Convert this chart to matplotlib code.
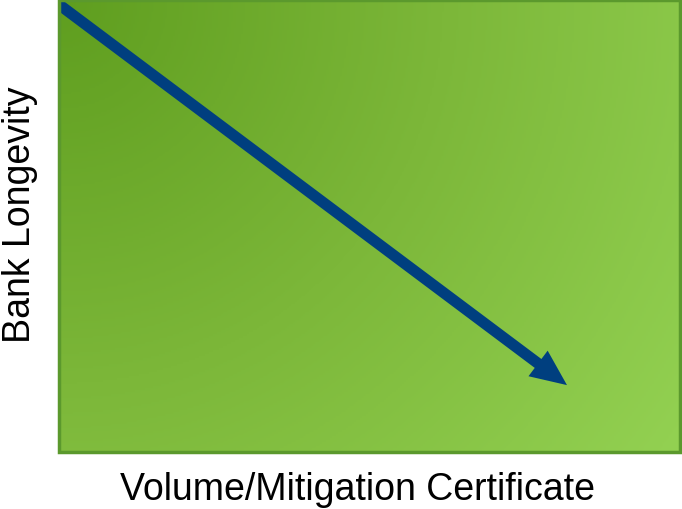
import numpy as np
import matplotlib
matplotlib.use("Agg")
import matplotlib.pyplot as plt
from matplotlib.colors import LinearSegmentedColormap
from matplotlib.patches import FancyArrowPatch, Rectangle

plt.rcParams['font.family'] = ['Liberation Sans', 'DejaVu Sans']

x_label = "Volume/Mitigation Certificate"
y_label = "Bank Longevity"
arrow_start = (0.0, 0.99)
arrow_end = (0.818, 0.148)
grad_colors = ["#5f9e1f", "#7cb739", "#93d152"]

W, H = 621, 452
fig = plt.figure(figsize=(6.82, 5.10), dpi=100)
ax = fig.add_axes([59/682, 57/510, W/682, H/510])
ax.set_xlim(0, 1)
ax.set_ylim(0, 1)

cmap = LinearSegmentedColormap.from_list("g", grad_colors)
px, py = np.meshgrid(np.linspace(0, W, 310), np.linspace(0, H, 226))
grad = np.sqrt(px**2 + py**2) / np.hypot(W, H)
ax.imshow(grad, extent=[0, 1, 0, 1], origin='upper', cmap=cmap, aspect='auto', zorder=0,
          vmin=0, vmax=1)

ax.add_patch(Rectangle((0, 0), 1, 1, fill=False, edgecolor="#5b992d", lw=2.5,
                       transform=ax.transAxes, zorder=3, clip_on=False))

arr = FancyArrowPatch(arrow_start, arrow_end, arrowstyle='simple,head_length=2.6,head_width=2.3,tail_width=0.8',
                      mutation_scale=10, color="#003f7f", lw=0, zorder=2,
                      shrinkA=0, shrinkB=0)
arr.set_clip_path(Rectangle((0, 0), 1, 1, transform=ax.transAxes))
ax.add_patch(arr)

ax.set_xticks([])
ax.set_yticks([])
for s in ax.spines.values():
    s.set_visible(False)

fig.text(357/682, 1 - 490/510, x_label, fontsize=27, ha='center', va='center')
fig.text(20/682, 1 - 215/510, y_label, fontsize=27, ha='center', va='center', rotation=90)

fig.savefig("out.png", dpi=100)
